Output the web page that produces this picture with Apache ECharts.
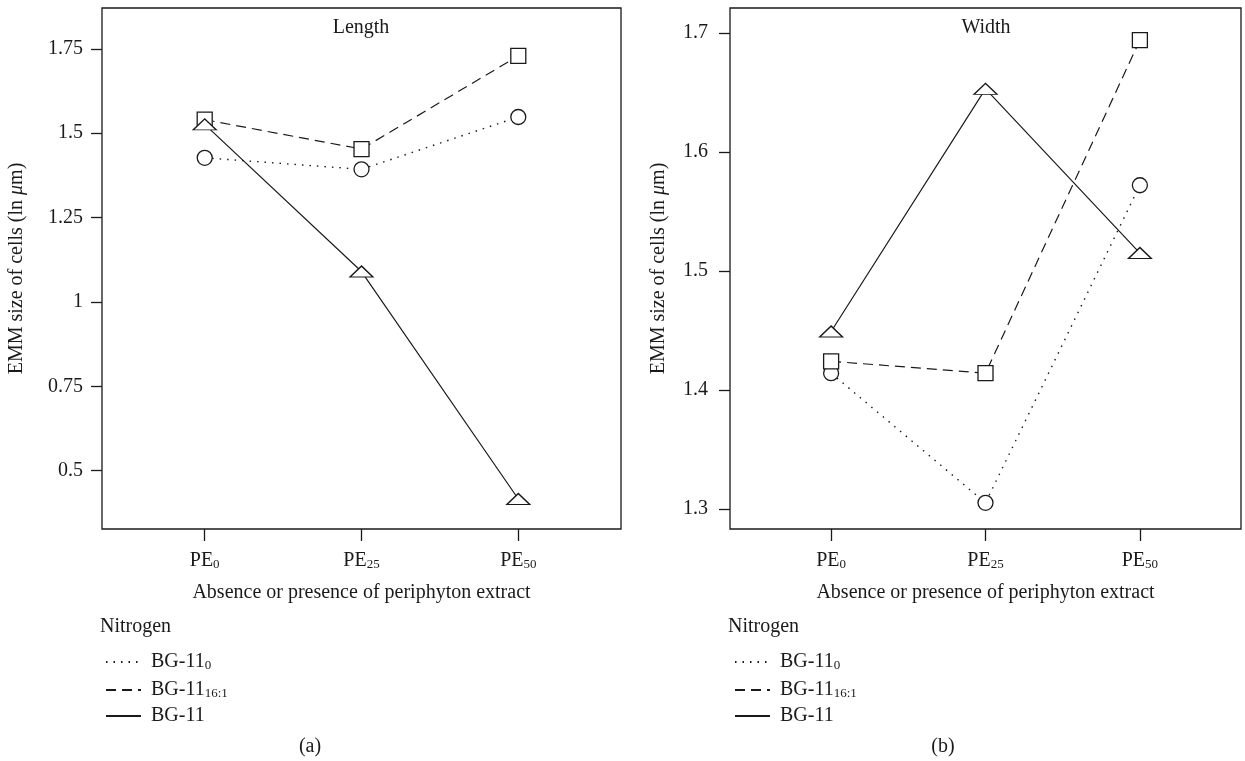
<!DOCTYPE html>
<html>
<head>
<meta charset="utf-8">
<script src="https://cdn.jsdelivr.net/npm/echarts@6/dist/echarts.min.js"></script>
<style>
  html, body { margin: 0; padding: 0; background: #fff; }
  #chart { width: 1245px; height: 761px; }
</style>
</head>
<body>
<div id="chart"></div>
<script>
// categories (PE main text + subscript) and their x positions
const catMain = ['PE', 'PE', 'PE'];
const catSub = ['0', '25', '50'];
const catPos = [1, 2, 3];

// Length panel (a)
const lengthBG0 = [1.427, 1.393, 1.548];
const lengthBG16 = [1.540, 1.453, 1.729];
const lengthBG = [1.526, 1.090, 0.416];
const lengthTicks = [0.5, 0.75, 1, 1.25, 1.5, 1.75];

// Width panel (b)
const widthBG0 = [1.414, 1.305, 1.572];
const widthBG16 = [1.424, 1.414, 1.694];
const widthBG = [1.449, 1.653, 1.515];
const widthTicks = [1.3, 1.4, 1.5, 1.6, 1.7];

const names = ['BG-11_0', 'BG-11_16:1', 'BG-11'];

const FONT = 'Liberation Serif';
const INK = '#1a1a1a';
const FS = 20;

let myChart = echarts.init(document.getElementById('chart'));

function pairs(vals) {
  return vals.map((v, i) => [catPos[i], v]);
}

function richName(name) {
  const p = name.split('_');
  return p.length > 1 ? '{m|' + p[0] + '}{s|' + p[1] + '}' : '{m|' + p[0] + '}';
}

const richText = {
  m: { fontFamily: FONT, fontSize: FS, color: INK, lineHeight: 20 },
  s: { fontFamily: FONT, fontSize: 13, color: INK, lineHeight: 20, verticalAlign: 'bottom', padding: [9, 0, 0, 0] }
};

function xAxisOf(gi) {
  return {
    type: 'value', gridIndex: gi, min: 0.345, max: 3.655,
    axisLine: { show: false },
    splitLine: { show: false },
    axisTick: { show: true, customValues: catPos, length: 12, lineStyle: { color: INK, width: 1.3 } },
    axisLabel: {
      customValues: catPos, margin: 22,
      formatter: v => { const i = catPos.indexOf(v); return i < 0 ? '' : '{m|' + catMain[i] + '}{s|' + catSub[i] + '}'; },
      rich: richText
    },
    name: 'Absence or presence of periphyton extract',
    nameLocation: 'middle', nameGap: 54,
    nameTextStyle: { fontFamily: FONT, fontSize: FS, color: INK }
  };
}

function yAxisOf(gi, min, max, ticks, gap, margin) {
  return {
    type: 'value', gridIndex: gi, min: min, max: max,
    axisLine: { show: false },
    splitLine: { show: false },
    axisTick: { show: true, customValues: ticks, length: 11, lineStyle: { color: INK, width: 1.3 } },
    axisLabel: { customValues: ticks, margin: margin, fontFamily: FONT, fontSize: FS, color: INK },
    name: '{n|EMM size of cells (ln }{i|\u03bc}{n|m)}',
    nameLocation: 'middle', nameGap: gap,
    nameTextStyle: {
      rich: {
        n: { fontFamily: FONT, fontSize: FS, color: INK },
        i: { fontFamily: FONT, fontSize: FS, color: INK, fontStyle: 'italic' }
      }
    }
  };
}

function seriesOf(gi, bg0, bg16, bg) {
  const base = {
    type: 'line', xAxisIndex: gi, yAxisIndex: gi,
    itemStyle: { color: '#fff', borderColor: INK, borderWidth: 1.3 },
    emphasis: { disabled: true }
  };
  return [
    Object.assign({}, base, { name: names[0], data: pairs(bg0), symbol: 'circle', symbolSize: 15,
      lineStyle: { color: INK, width: 1.4, type: [1.5, 6] } }),
    Object.assign({}, base, { name: names[1], data: pairs(bg16), symbol: 'rect', symbolSize: 15,
      lineStyle: { color: INK, width: 1.2, type: [10, 6] } }),
    Object.assign({}, base, { name: names[2], data: pairs(bg), symbol: 'triangle', symbolSize: [23, 11],
      lineStyle: { color: INK, width: 1.2, type: 'solid' } })
  ];
}

function legendOf(left) {
  return {
    orient: 'vertical', left: left, top: 645,
    itemWidth: 35, itemHeight: 12, itemGap: 6,
    data: names,
    itemStyle: { opacity: 0 },
    formatter: richName,
    textStyle: { rich: richText, padding: [0, 0, 0, 5] },
    selectedMode: false
  };
}

function textTitle(text, left, top, align) {
  return {
    text: text, left: left, top: top, textAlign: align, padding: 0,
    textStyle: { fontFamily: FONT, fontSize: FS, fontWeight: 'normal', color: INK }
  };
}

let options = {
  animation: false,
  title: [
    textTitle('Length', 361, 18, 'center'),
    textTitle('Width', 986, 18, 'center'),
    textTitle('Nitrogen', 100, 617, 'left'),
    textTitle('Nitrogen', 728, 617, 'left'),
    textTitle('(a)', 310, 737, 'center'),
    textTitle('(b)', 943, 737, 'center')
  ],
  grid: [
    { left: 102, top: 8, width: 519, height: 521, show: true, borderColor: INK, borderWidth: 1.3, containLabel: false },
    { left: 730, top: 8, width: 511, height: 521, show: true, borderColor: INK, borderWidth: 1.3, containLabel: false }
  ],
  xAxis: [xAxisOf(0), xAxisOf(1)],
  yAxis: [
    yAxisOf(0, 0.327, 1.871, lengthTicks, 75, 19),
    yAxisOf(1, 1.283, 1.721, widthTicks, 61, 22)
  ],
  legend: [legendOf(100), legendOf(729)],
  series: seriesOf(0, lengthBG0, lengthBG16, lengthBG).concat(seriesOf(1, widthBG0, widthBG16, widthBG))
};

myChart.setOption(options);
</script>
</body>
</html>
